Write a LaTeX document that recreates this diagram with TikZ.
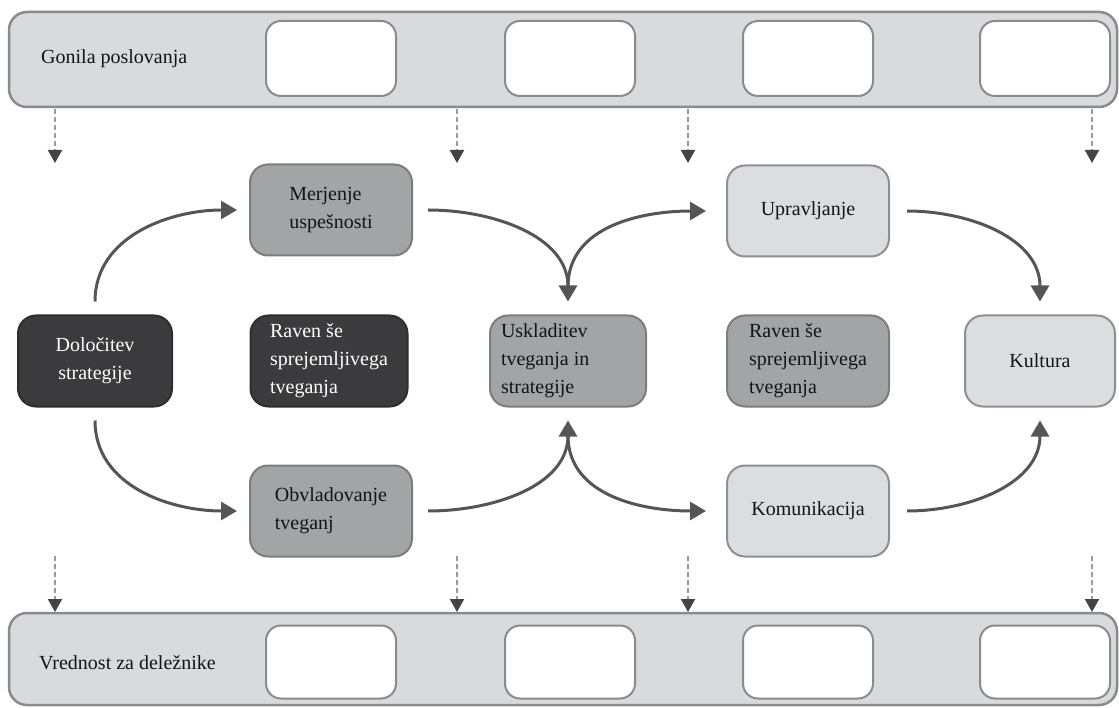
\documentclass[tikz,border=0pt]{standalone}
\usepackage{fontspec}
\setmainfont{Liberation Serif}
\usetikzlibrary{arrows.meta}

\definecolor{bandfill}{HTML}{D9DADD}
\definecolor{bandline}{HTML}{8A8B8D}
\definecolor{midfill}{HTML}{A3A4A6}
\definecolor{midline}{HTML}{7C7D7F}
\definecolor{lightfill}{HTML}{DCDDE0}
\definecolor{lightline}{HTML}{8E8F91}
\definecolor{darkfill}{HTML}{3B3A3C}
\definecolor{darkline}{HTML}{2E2D2F}
\definecolor{flowgray}{HTML}{555556}
\definecolor{dashgray}{HTML}{9A9A9B}
\definecolor{tipgray}{HTML}{444445}
\definecolor{txt}{HTML}{141414}

\tikzset{
  box/.style={rounded corners=18pt, line width=2pt, minimum width=162pt,
    minimum height=91pt, font=\fontsize{20}{28}\selectfont, text=txt,
    align=flush left, inner sep=0pt},
  midbox/.style={box, fill=midfill, draw=midline},
  lightbox/.style={box, fill=lightfill, draw=lightline},
  darkbox/.style={box, fill=darkfill, draw=darkline, text=white},
  band/.style={rounded corners=18pt, line width=2.5pt, fill=bandfill,
    draw=bandline, inner sep=0pt},
  slot/.style={rounded corners=15pt, line width=2pt, fill=white,
    draw=bandline, minimum width=130pt, inner sep=0pt},
  flow/.style={draw=flowgray, line width=3pt, -{Triangle[length=16pt,width=18pt]}},
  feed/.style={draw=dashgray, line width=2pt, dash pattern=on 5pt off 3pt,
    -{Triangle[length=13pt,width=14pt,color=tipgray]}},
  bandlabel/.style={font=\fontsize{20}{24}\selectfont, text=txt,
    anchor=west, inner sep=0pt}
}

\begin{document}
\begin{tikzpicture}[x=1pt,y=-1pt]
\useasboundingbox (0,0) rectangle (1119,708);

% drivers band and stakeholder value band
\node[band, minimum width=1108pt, minimum height=95pt] (drv) at (563,59.5) {};
\node[band, minimum width=1108pt, minimum height=92pt] (val) at (563,659) {};
\foreach \x [count=\i] in {331,570,808,1045} {
  \node[slot, minimum height=75pt] (ds\i) at (\x,58.5) {};
  \node[slot, minimum height=73pt] (vs\i) at (\x,662) {};
}
\node[bandlabel] (drvlab) at (41,59) {Gonila poslovanja};
\node[bandlabel] (vallab) at (39,663) {Vrednost za deležnike};

% dashed feeds from the drivers and into the value band
\foreach \x [count=\i] in {55,457,688,1092} {
  \coordinate (ts\i) at (\x,109);
  \coordinate (te\i) at (\x,163);
  \coordinate (bs\i) at (\x,556);
  \coordinate (be\i) at (\x,612);
  \draw[feed] (ts\i) -- (te\i);
  \draw[feed] (bs\i) -- (be\i);
}

% process boxes
\node[darkbox, minimum width=154pt, align=center] (dol) at (95,361) {Določitev\\strategije};
\node[midbox] (mer) at (331,210) {Merjenje\\uspešnosti};
\node[darkbox, minimum width=157pt] (rav1) at (329,361) {Raven še\\sprejemljivega\\tveganja};
\node[midbox] (obv) at (331,511) {Obvladovanje\\tveganj};
\node[midbox, minimum width=156pt, text width=134pt] (usk) at (568,361) {Uskladitev\\tveganja in\\strategije};
\node[lightbox] (upr) at (808,211) {Upravljanje};
\node[midbox] (rav2) at (808,361) {Raven še\\sprejemljivega\\tveganja};
\node[lightbox] (kom) at (808,511) {Komunikacija};
\node[lightbox, minimum width=150pt] (kul) at (1040,361) {Kultura};

% flows
\draw[flow] ([yshift=13pt]dol.north) to[out=90,in=180] ([xshift=-12pt]mer.west);
\draw[flow] ([yshift=-13pt]dol.south) to[out=-90,in=180] ([xshift=-12pt]obv.west);
\draw[flow] ([xshift=15pt]mer.east) to[out=0,in=90] ([yshift=13pt]usk.north);
\draw[flow] ([yshift=28pt]usk.north) to[out=90,in=180] ([xshift=-20pt]upr.west);
\draw[flow] ([xshift=15pt]obv.east) to[out=0,in=-90] ([yshift=-13pt]usk.south);
\draw[flow] ([yshift=-28pt]usk.south) to[out=-90,in=180] ([xshift=-20pt]kom.west);
\draw[flow] ([xshift=17pt]upr.east) to[out=0,in=90] ([yshift=13pt]kul.north);
\draw[flow] ([xshift=17pt]kom.east) to[out=0,in=-90] ([yshift=-13pt]kul.south);
\end{tikzpicture}
\end{document}
